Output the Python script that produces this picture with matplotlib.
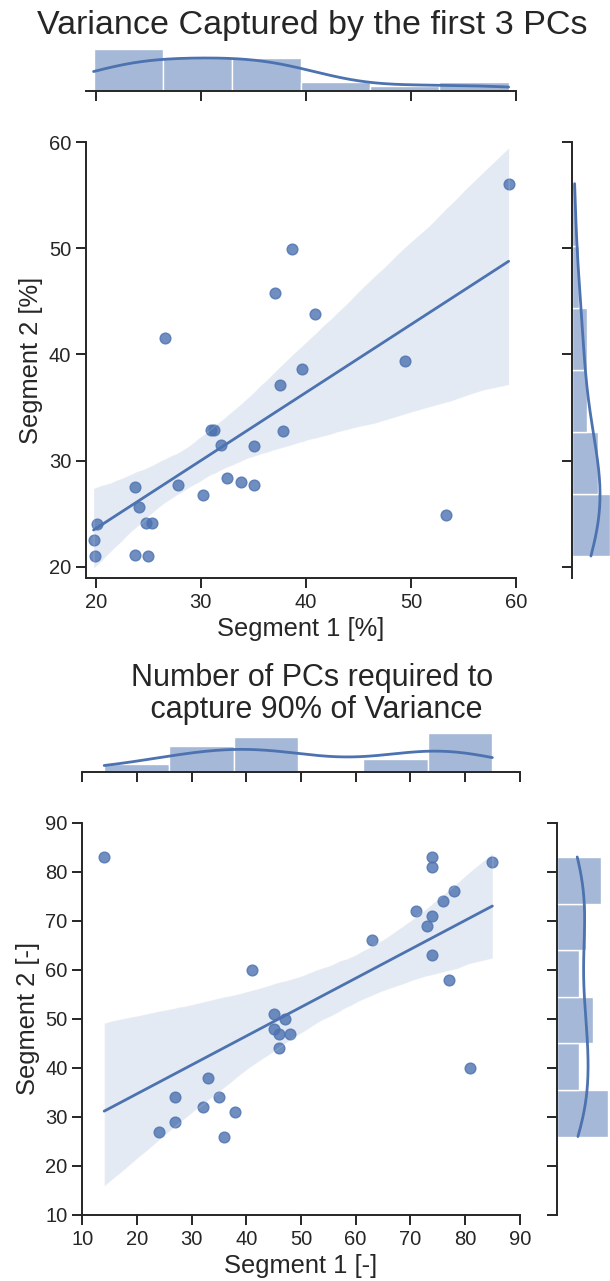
import matplotlib
matplotlib.use("Agg")
import matplotlib.pyplot as plt
import seaborn as sns

W, H = 610, 1281

# Variance captured by the first 3 PCs [%]
var_seg1 = [59.3, 38.7, 37.1, 40.9, 26.6, 49.4, 39.6, 37.5, 31.0, 31.3, 37.8, 31.9, 35.1, 32.5,
            33.8, 35.1, 27.8, 23.7, 30.2, 24.1, 24.8, 25.4, 20.1, 19.8, 19.9, 23.7, 25.0, 53.3]
var_seg2 = [56.1, 49.9, 45.8, 43.8, 41.6, 39.4, 38.6, 37.1, 32.9, 32.9, 32.8, 31.5, 31.4, 28.4,
            28.0, 27.7, 27.7, 27.5, 26.8, 25.6, 24.1, 24.1, 24.0, 22.5, 21.0, 21.1, 21.0, 24.9]

# Number of PCs needed for 90% of variance [-]
npc_seg1 = [14, 74, 74, 85, 78, 76, 71, 74, 73, 63, 74, 41, 77, 45,
            47, 45, 46, 48, 46, 81, 33, 27, 35, 32, 38, 27, 24, 36]
npc_seg2 = [83, 83, 81, 82, 76, 74, 72, 71, 69, 66, 63, 60, 58, 51,
            50, 48, 47, 47, 44, 40, 38, 34, 34, 32, 31, 29, 27, 26]

var_ticks = [20, 30, 40, 50, 60]
npc_ticks = [10, 20, 30, 40, 50, 60, 70, 80, 90]

sns.set_theme(style="ticks")
plt.rcParams['font.family'] = ['Liberation Sans', 'DejaVu Sans']
plt.rcParams.update({
    'axes.linewidth': 1.4,
    'xtick.major.size': 7.2,
    'ytick.major.size': 7.2,
    'xtick.major.width': 1.4,
    'ytick.major.width': 1.4,
    'xtick.labelsize': 14.5,
    'ytick.labelsize': 14.5,
    'axes.labelsize': 18.4,
    'lines.linewidth': 2.0,
})


def add_ax(fig, left, top, right, bottom):
    # pixel box -> figure fraction
    return fig.add_axes([left / W, 1 - bottom / H, (right - left) / W, (bottom - top) / H])


def joint(fig, x, y, box, top_box, right_box, xlim, ylim, ticks, xlabel, ylabel):
    left, top, right, bottom = box
    ax = add_ax(fig, left, top, right, bottom)
    ax_mx = add_ax(fig, left, top_box[0], right, top_box[1])
    ax_my = add_ax(fig, right_box[0], top, right_box[1], bottom)

    sns.regplot(x=x, y=y, ax=ax, seed=3, scatter_kws=dict(s=60), line_kws=dict(lw=2))
    sns.histplot(x=x, bins=6, kde=True, ax=ax_mx)
    sns.histplot(y=y, bins=6, kde=True, ax=ax_my)

    ax.set_xlim(xlim)
    ax.set_ylim(ylim)
    ax.set_xticks(ticks)
    ax.set_yticks(ticks)
    ax.set_xlabel(xlabel)
    ax.set_ylabel(ylabel)
    sns.despine(ax=ax)

    ax_mx.set_xlim(xlim)
    ax_mx.set_xticks(ticks)
    ax_mx.tick_params(labelbottom=False, left=False, labelleft=False)
    ax_mx.set_xlabel('')
    ax_mx.set_ylabel('')
    sns.despine(ax=ax_mx, left=True)

    ax_my.set_ylim(ylim)
    ax_my.set_yticks(ticks)
    ax_my.tick_params(labelleft=False, bottom=False, labelbottom=False)
    ax_my.set_xlabel('')
    ax_my.set_ylabel('')
    sns.despine(ax=ax_my, bottom=True)
    return ax


fig = plt.figure(figsize=(W / 100, H / 100), dpi=100)

joint(fig, var_seg1, var_seg2,
      box=(86, 142.3, 516, 578), top_box=(47, 91), right_box=(571.7, 611.6),
      xlim=(19.08, 60), ylim=(18.93, 60), ticks=var_ticks,
      xlabel='Segment 1 [%]', ylabel='Segment 2 [%]')

joint(fig, npc_seg1, npc_seg2,
      box=(82.3, 822.6, 519.7, 1215), top_box=(731, 772.3), right_box=(556.7, 610.6),
      xlim=(10, 90), ylim=(10, 90), ticks=npc_ticks,
      xlabel='Segment 1 [-]', ylabel='Segment 2 [-]')

fig.text(312 / W, 1 - 34 / H, 'Variance Captured by the first 3 PCs',
         ha='center', va='baseline', fontsize=24.5, color='.15')
fig.text(312 / W, 1 - 663 / H, 'Number of PCs required to\n capture 90% of Variance',
         ha='center', va='top', fontsize=22, color='.15', linespacing=1.08)

fig.savefig('out.png', dpi=100)
